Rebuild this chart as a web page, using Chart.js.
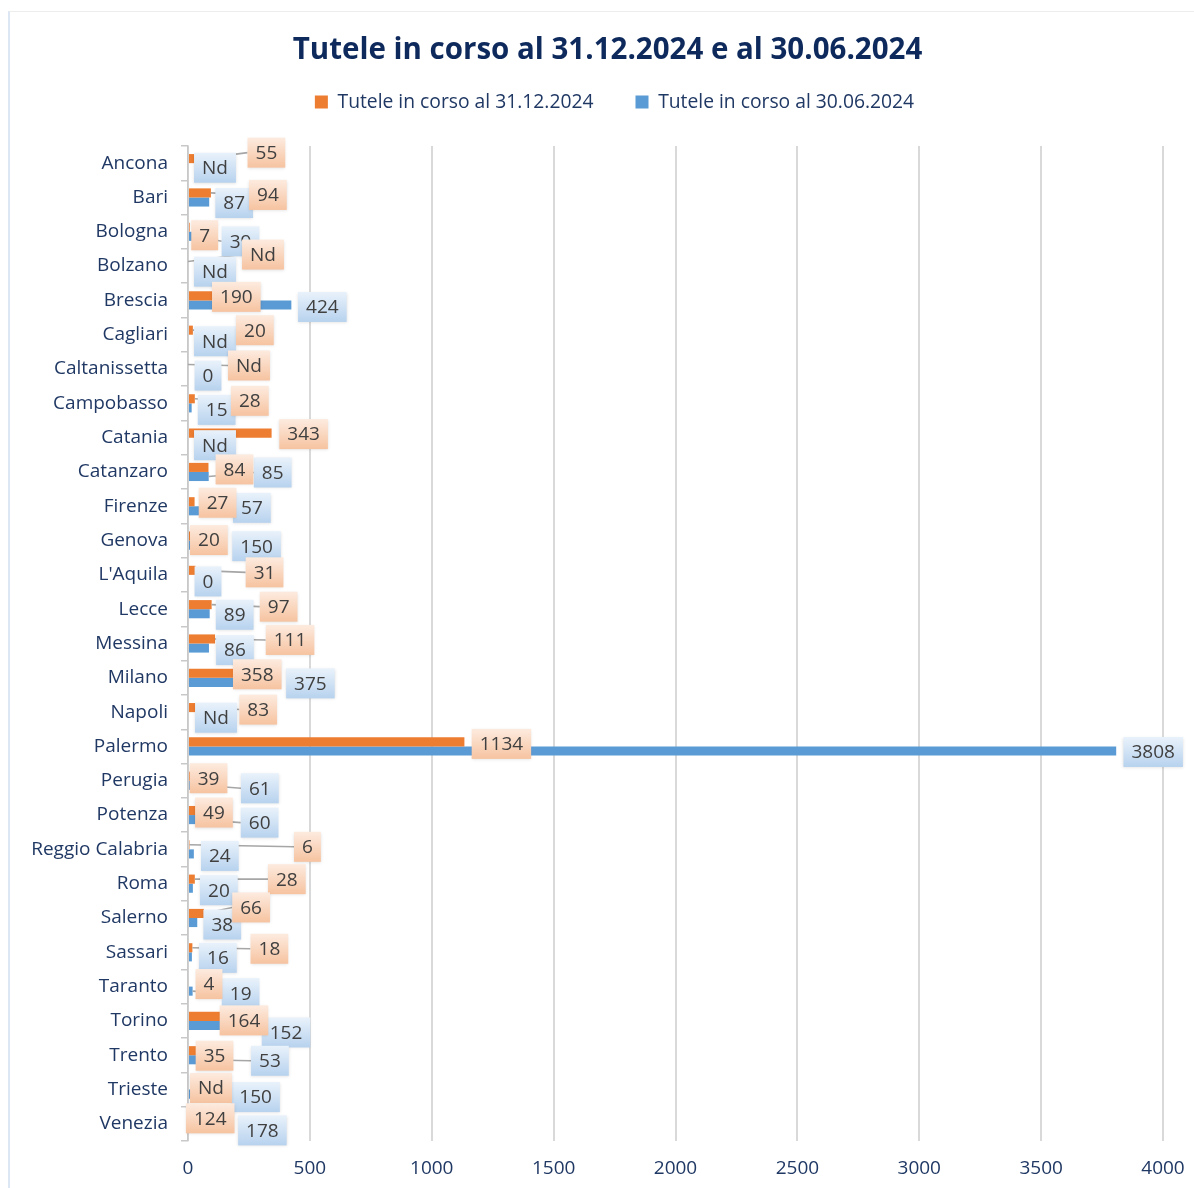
<!DOCTYPE html>
<html><head><meta charset="utf-8">
<script src="https://cdn.jsdelivr.net/npm/chart.js@4.4.1/dist/chart.umd.min.js"></script>
<style>
html,body{margin:0;padding:0;background:#fff;}
#wrap{position:relative;width:1194px;height:1188px;overflow:hidden;}
#frame{position:absolute;left:8px;top:11px;width:1200px;height:1200px;border-top:1px solid #EDEDED;border-left:2px solid #DDE7F3;}
canvas{position:absolute;left:0;top:0;}
</style></head><body>
<div id="wrap"><div id="frame"></div><canvas id="c" width="1194" height="1188"></canvas></div>
<script>
const chartTitle = "Tutele in corso al 31.12.2024 e al 30.06.2024";
const seriesNames = ["Tutele in corso al 31.12.2024", "Tutele in corso al 30.06.2024"];
const categories = ["Ancona","Bari","Bologna","Bolzano","Brescia","Cagliari","Caltanissetta","Campobasso","Catania","Catanzaro","Firenze","Genova","L'Aquila","Lecce","Messina","Milano","Napoli","Palermo","Perugia","Potenza","Reggio Calabria","Roma","Salerno","Sassari","Taranto","Torino","Trento","Trieste","Venezia"];
// null = "Nd" (dato non disponibile)
const tuteleDic2024 = [55,94,7,null,190,20,null,28,343,84,27,20,31,97,111,358,83,1134,39,49,6,28,66,18,4,164,35,null,124];
const tuteleGiu2024 = [null,87,39,null,424,null,0,15,null,85,57,150,0,89,86,375,null,3808,61,60,24,20,38,16,19,152,53,150,178];
const xTicks = [0,500,1000,1500,2000,2500,3000,3500,4000];
const missingLabel = "Nd";

// callout placement: [dx, dy] in px from the bar end / bar centre
const calloutOffsetDic = [[65,-6],[57,2],[15,8],[75,-7],[2,1],[62,0],[61,1],[55,2],[32,1],[26,2],[23,1],[16,4],[69,2],[67,2],[75,1],[-18,1],[50,2],[37,2],[11,2],[14,2],[118,2],[92,0],[47,-6],[77,1],[20,2],[16,4],[18,5],[23,3],[-8,-1]];
const calloutOffsetGiu = [[27,0],[25,1],[43,5],[27,1],[31,2],[27,2],[20,2],[25,2],[27,3],[64,-4],[50,-3],[32,1],[20,2],[25,1],[26,2],[31,1],[28,1],[37,1],[57,3],[57,3],[26,2],[26,2],[25,2],[26,1],[48,2],[61,7],[69,1],[31,3],[31,2]];

const NAVY = '#203864';
const FONT = '"Open Sans", "DejaVu Sans", sans-serif';

const calloutPlugin = {
  id: 'callouts',
  afterDatasetsDraw(chart) {
    const ctx = chart.ctx, xs = chart.scales.x;
    ctx.save();
    ctx.font = '19px ' + FONT;
    const items = [];
    [1, 0].forEach(di => {
      const meta = chart.getDatasetMeta(di);
      const vals = chart.data.datasets[di].data;
      const offs = di === 0 ? calloutOffsetDic : calloutOffsetGiu;
      vals.forEach((v, i) => {
        const el = meta.data[i];
        const x0 = xs.getPixelForValue(v == null ? 0 : v);
        const y0 = el.y;
        const text = v == null ? missingLabel : String(v);
        const w = ctx.measureText(text).width + 16, h = 30;
        const cx = x0 + offs[i][0], cy = y0 + offs[i][1];
        items.push({di, x0, y0, cx, cy, w, h, text});
      });
    });
    ctx.strokeStyle = '#A6A6A6';
    ctx.lineWidth = 1.6;
    items.forEach(it => {
      const left = it.cx - it.w / 2, right = it.cx + it.w / 2;
      let tx = null;
      if (left - it.x0 > 12) tx = left;
      else if (it.x0 - right > 12) tx = right;
      if (tx !== null) {
        ctx.beginPath(); ctx.moveTo(it.x0, it.y0); ctx.lineTo(tx, it.cy); ctx.stroke();
      }
    });
    items.forEach(it => {
      const left = it.cx - it.w / 2, top = it.cy - it.h / 2;
      const g = ctx.createLinearGradient(0, top, 0, top + it.h);
      if (it.di === 0) { g.addColorStop(0, '#FDEBDF'); g.addColorStop(1, '#F6C3A0'); }
      else { g.addColorStop(0, '#E9F2FB'); g.addColorStop(1, '#B7D2EE'); }
      ctx.save();
      ctx.shadowColor = 'rgba(0,0,0,0.12)'; ctx.shadowBlur = 3; ctx.shadowOffsetY = 1;
      ctx.fillStyle = g;
      ctx.fillRect(left, top, it.w, it.h);
      ctx.restore();
      ctx.fillStyle = '#404040';
      ctx.textAlign = 'center'; ctx.textBaseline = 'middle';
      ctx.fillText(it.text, it.cx, it.cy + 1);
    });
    ctx.restore();
  }
};

function shiftDraw(box, dx) {
  const d = box.draw.bind(box);
  box.draw = function(...a) { const c = this.ctx; c.save(); c.translate(dx, 0); d(...a); c.restore(); };
}

function draw() {
  const chart = new Chart(document.getElementById('c'), {
    type: 'bar',
    data: {
      labels: categories,
      datasets: [
        {label: seriesNames[0], data: tuteleDic2024, backgroundColor: '#ED7D31', barPercentage: 1, categoryPercentage: 0.53},
        {label: seriesNames[1], data: tuteleGiu2024, backgroundColor: '#5B9BD5', barPercentage: 1, categoryPercentage: 0.53}
      ]
    },
    options: {
      indexAxis: 'y',
      responsive: false,
      animation: false,
      layout: {padding: {left: 0, right: 31, top: 0, bottom: 0}},
      scales: {
        x: {
          min: 0, max: 4000,
          afterBuildTicks(s) { s.ticks = xTicks.map(v => ({value: v})); },
          afterFit(s) { s.height = 47; s.paddingRight = 0; s.paddingLeft = 0; },
          ticks: {color: NAVY, font: {family: FONT, size: 19}, padding: 16, callback: v => String(v)},
          grid: {color: '#D9D9D9', lineWidth: 2, drawTicks: false},
          border: {display: false}
        },
        y: {
          afterFit(s) { s.width = 188; s.paddingTop = 0; s.paddingBottom = 0; },
          ticks: {color: NAVY, font: {family: FONT, size: 19}, padding: 13},
          grid: {drawOnChartArea: false, drawTicks: true, tickLength: 7, color: '#C8C8C8', lineWidth: 1.5, offset: true},
          border: {display: true, color: '#C8C8C8', width: 1.5}
        }
      },
      plugins: {
        title: {display: true, text: chartTitle, color: '#0E2A5C', font: {family: FONT, size: 29.5, weight: 'bold'}, padding: {top: 33, bottom: 0}},
        legend: {labels: {boxWidth: 13, boxHeight: 13, color: NAVY, font: {family: FONT, size: 19.3}, padding: 42}},
        tooltip: {enabled: false}
      }
    },
    plugins: [calloutPlugin]
  });
  const t = chart.titleBlock, l = chart.legend;
  if (t && typeof t.update === 'function') {
    const u = t.update.bind(t);
    t.update = function(...a) { const r = u(...a); this.height = 50.4; return r; };
    shiftDraw(t, 26);
  }
  if (l && typeof l.fit === 'function') {
    const f = l.fit.bind(l);
    l.fit = function() { f(); this.height = 95.6; };
    shiftDraw(l, 33);
  }
  chart.update();
}
Promise.all([document.fonts.load('19px "Open Sans"'), document.fonts.load('bold 29px "Open Sans"')]).then(draw, draw);
</script>
</body></html>
